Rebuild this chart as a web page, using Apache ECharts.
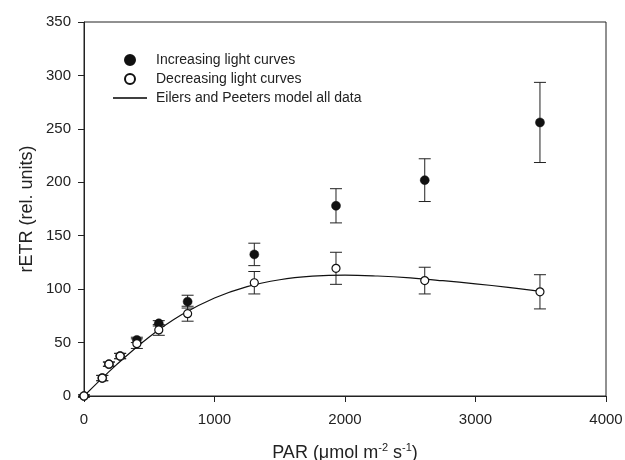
<!DOCTYPE html>
<html>
<head>
<meta charset="utf-8">
<script src="https://cdn.jsdelivr.net/npm/echarts@6/dist/echarts.min.js"></script>
<style>
  html, body { margin: 0; padding: 0; background: #fff; }
  #main { width: 625px; height: 460px; }
</style>
</head>
<body>
<div id="main"></div>
<script>
// PAR steps of the light curves
var par = [0, 140, 191, 277, 405, 573, 794, 1305, 1931, 2611, 3494];
// increasing light curves (filled) - mean and error
var incMean = [0, 16.8, 29.8, 37.4, 52.5, 68, 88.3, 132.5, 178, 202, 256];
var incErr  = [1, 2.5, 2, 2.5, 2.5, 2.5, 6, 10.5, 16, 20, 37.5];
// decreasing light curves (open) - mean and error
var decMean = [0, 16.8, 29.8, 37.4, 49, 61.8, 77, 106, 119.5, 108, 97.5];
var decErr  = [1, 2.5, 2, 2.5, 4.5, 5, 7, 10.5, 15, 12.5, 16];
// Eilers and Peeters model
var modelPar = [0, 250, 500, 750, 1000, 1250, 1500, 1750, 2000, 2250, 2500, 2750, 3000, 3250, 3500];
var modelEtr = [0, 29.4, 55.3, 76.2, 91.7, 102.4, 108.8, 112.1, 113.2, 112.3, 110.5, 107.9, 105, 101.7, 98];

var FONT = '"Liberation Sans", Arial, sans-serif';
var INK = '#222';

function pairs(xs, ys) {
  return xs.map(function (x, i) { return [x, ys[i]]; });
}
function bars(xs, ys, es) {
  return xs.map(function (x, i) { return [x, ys[i] - es[i], ys[i] + es[i]]; });
}

function renderErr(params, api) {
  var x = api.value(0);
  var lo = api.coord([x, api.value(1)]);
  var hi = api.coord([x, api.value(2)]);
  var w = 6;
  var st = { stroke: INK, lineWidth: 1 };
  return {
    type: 'group',
    children: [
      { type: 'line', shape: { x1: lo[0], y1: lo[1], x2: hi[0], y2: hi[1] }, style: st },
      { type: 'line', shape: { x1: lo[0] - w, y1: lo[1], x2: lo[0] + w, y2: lo[1] }, style: st },
      { type: 'line', shape: { x1: hi[0] - w, y1: hi[1], x2: hi[0] + w, y2: hi[1] }, style: st }
    ]
  };
}

var myChart = echarts.init(document.getElementById('main'), null, { renderer: 'canvas' });

myChart.setOption({
  animation: false,
  backgroundColor: '#fff',
  textStyle: { fontFamily: FONT },
  grid: {
    left: 84, right: 19, top: 22, bottom: 64,
    outerBoundsMode: 'none', containLabel: false,
    show: true, borderColor: INK, borderWidth: 1
  },
  legend: {
    left: 113, top: 53, orient: 'vertical', padding: 0,
    itemWidth: 34, itemHeight: 10, itemGap: 5,
    textStyle: { fontFamily: FONT, fontSize: 14, color: INK, padding: [0, 0, 0, 4] },
    data: [
      { name: 'Increasing light curves' },
      { name: 'Decreasing light curves' },
      {
        name: 'Eilers and Peeters model all data',
        icon: 'path://M0,0 L34,0 L34,1.5 L0,1.5 Z',
        itemStyle: { color: '#000', borderWidth: 0 }
      }
    ]
  },
  xAxis: {
    type: 'value', min: 0, max: 4000, interval: 1000,
    name: '{a|PAR (μmol m}{s|-2}{a| s}{s|-1}{a|)}',
    nameLocation: 'middle', nameGap: 46, nameMoveOverlap: false,
    nameTextStyle: {
      rich: {
        a: { fontFamily: FONT, fontSize: 18, color: INK, lineHeight: 22 },
        s: { fontFamily: FONT, fontSize: 11, color: INK, verticalAlign: 'top', lineHeight: 22 }
      }
    },
    axisLine: { lineStyle: { color: INK, width: 1 } },
    axisTick: { inside: false, length: 6, lineStyle: { color: INK } },
    axisLabel: {
      margin: 16, fontFamily: FONT, fontSize: 15, color: INK,
      formatter: function (v) { return String(v); }
    },
    splitLine: { show: false }
  },
  yAxis: {
    type: 'value', min: 0, max: 350, interval: 50,
    name: 'rETR (rel. units)',
    nameLocation: 'middle', nameGap: 48, nameMoveOverlap: false,
    nameTextStyle: { fontFamily: FONT, fontSize: 18, color: INK },
    axisLine: { lineStyle: { color: INK, width: 1 } },
    axisTick: { inside: false, length: 6, lineStyle: { color: INK } },
    axisLabel: { margin: 13, fontFamily: FONT, fontSize: 15, color: INK },
    splitLine: { show: false }
  },
  series: [
    {
      type: 'custom', name: 'incErr', renderItem: renderErr, z: 1,
      encode: { x: 0, y: [1, 2] }, data: bars(par, incMean, incErr)
    },
    {
      type: 'custom', name: 'decErr', renderItem: renderErr, z: 1,
      encode: { x: 0, y: [1, 2] }, data: bars(par, decMean, decErr)
    },
    {
      type: 'line', name: 'Eilers and Peeters model all data', z: 2,
      data: pairs(modelPar, modelEtr), smooth: 0.4, symbol: 'none',
      lineStyle: { color: '#111', width: 1.2 }, itemStyle: { color: '#111' }
    },
    {
      type: 'scatter', name: 'Increasing light curves', z: 3,
      data: pairs(par, incMean), symbol: 'circle', symbolSize: 9,
      itemStyle: { color: '#111', borderColor: '#111', borderWidth: 0.5, opacity: 1 }
    },
    {
      type: 'scatter', name: 'Decreasing light curves', z: 4,
      data: pairs(par, decMean), symbol: 'circle', symbolSize: 8,
      itemStyle: { color: '#fff', borderColor: '#111', borderWidth: 1.2, opacity: 1 }
    }
  ]
});
</script>
</body>
</html>
